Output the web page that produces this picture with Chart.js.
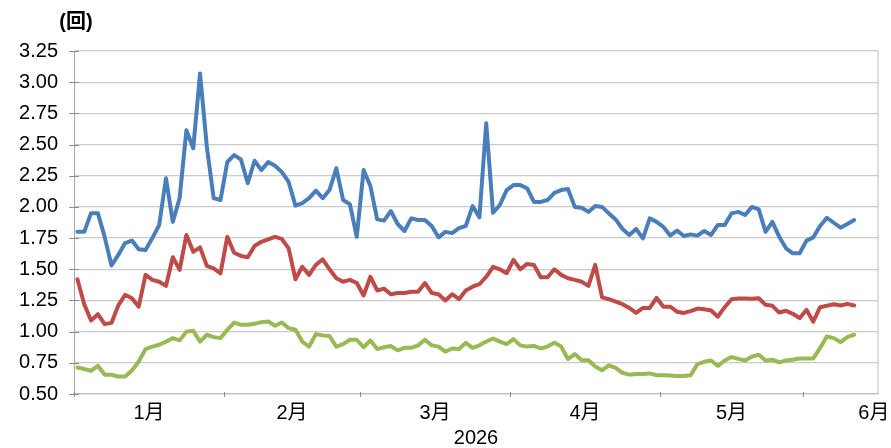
<!DOCTYPE html>
<html><head><meta charset="utf-8">
<script src="https://cdn.jsdelivr.net/npm/chart.js@4.4.1/dist/chart.umd.min.js"></script>
<style>html,body{margin:0;padding:0;background:#fff}</style>
</head><body>
<canvas id="c" width="891" height="448" style="display:block;width:891px;height:448px"></canvas>
<script>
// ---- data ----
const unitLabel = '(回)';
const yearLabel = '2026';
const monthLabels = ['1月','2月','3月','4月','5月','6月'];
const monthSizes = [22,20,22,22,21,11];   // trading days per month group on the axis
const yMin = 0.5, yMax = 3.25, yStep = 0.25;

const blueValues = [1.80,1.80,1.95,1.95,1.76,1.53,1.615,1.71,1.73,1.66,
 1.655,1.75,1.855,2.23,1.88,2.07,2.615,2.47,3.07,2.48,
 2.07,2.055,2.36,2.415,2.38,2.19,2.37,2.295,2.36,2.33,
 2.28,2.20,2.01,2.03,2.07,2.13,2.07,2.135,2.31,2.055,
 2.02,1.76,2.295,2.167,1.90,1.89,1.967,1.863,1.807,1.908,
 1.895,1.895,1.847,1.756,1.80,1.79,1.83,1.847,2.007,1.916,
 2.67,1.953,2.015,2.135,2.175,2.175,2.15,2.04,2.04,2.055,
 2.113,2.135,2.143,2.0,1.993,1.96,2.007,2.0,1.948,1.90,
 1.823,1.775,1.823,1.748,1.908,1.88,1.84,1.77,1.81,1.767,
 1.78,1.77,1.807,1.775,1.855,1.855,1.948,1.96,1.935,2.0,
 1.98,1.80,1.88,1.76,1.668,1.628,1.628,1.73,1.756,1.847,
 1.913,1.873,1.833,1.863,1.895];

const redValues = [1.42,1.22,1.09,1.14,1.06,1.07,1.21,1.295,1.268,1.20,
 1.455,1.415,1.40,1.367,1.596,1.495,1.775,1.64,1.676,1.527,
 1.508,1.468,1.76,1.633,1.607,1.596,1.687,1.72,1.74,1.76,
 1.743,1.668,1.42,1.52,1.455,1.535,1.58,1.50,1.428,1.40,
 1.415,1.39,1.29,1.44,1.33,1.345,1.30,1.31,1.31,1.32,
 1.32,1.39,1.31,1.30,1.25,1.30,1.26,1.33,1.36,1.38,
 1.44,1.52,1.50,1.468,1.575,1.50,1.543,1.535,1.436,1.436,
 1.50,1.455,1.428,1.415,1.40,1.367,1.535,1.275,1.26,1.24,
 1.22,1.19,1.15,1.19,1.19,1.27,1.20,1.20,1.16,1.15,
 1.165,1.185,1.18,1.17,1.12,1.196,1.26,1.265,1.265,1.263,
 1.268,1.215,1.207,1.153,1.167,1.143,1.108,1.175,1.08,1.196,
 1.207,1.22,1.21,1.223,1.21];

const greenValues = [0.713,0.70,0.686,0.726,0.654,0.654,0.64,0.64,0.689,0.76,
 0.86,0.88,0.895,0.92,0.948,0.93,1.0,1.007,0.92,0.975,
 0.956,0.948,1.015,1.073,1.055,1.055,1.063,1.076,1.081,1.047,
 1.073,1.028,1.015,0.92,0.88,0.98,0.97,0.965,0.88,0.90,
 0.935,0.935,0.875,0.93,0.86,0.875,0.885,0.85,0.87,0.87,
 0.89,0.935,0.89,0.88,0.84,0.865,0.86,0.91,0.87,0.89,
 0.92,0.945,0.92,0.90,0.94,0.89,0.88,0.885,0.865,0.88,
 0.91,0.88,0.78,0.82,0.77,0.77,0.72,0.69,0.73,0.71,
 0.67,0.655,0.66,0.66,0.665,0.65,0.65,0.648,0.645,0.645,
 0.65,0.74,0.758,0.769,0.726,0.769,0.796,0.782,0.769,0.80,
 0.815,0.769,0.775,0.753,0.769,0.775,0.785,0.785,0.785,0.868,
 0.961,0.948,0.916,0.956,0.975];

// ---- derived axis structure ----
const groupStarts = [];
{ let s = 0; for (const n of monthSizes) { groupStarts.push(s); s += n; } }
const xMax = monthSizes.reduce((a, b) => a + b, 0);
const boundaries = groupStarts.slice(1);
const labelCenters = monthSizes.map((n, i) => {
  const full = i === monthSizes.length - 1 ? 22 : n;   // last month only partly visible
  return Math.min(groupStarts[i] + full / 2, xMax - 0.6);
});
const toPoints = arr => arr.map((v, i) => ({ x: i + 0.5, y: v }));

const FONT = '"Liberation Sans", Arial, "Noto Sans CJK JP", sans-serif';

const deco = {
  id: 'deco',
  beforeDatasetsDraw(chart) {
    const { ctx, chartArea: a, scales: { x, y } } = chart;
    ctx.save();
    // right border of plot area
    ctx.strokeStyle = '#c8c8c8';
    ctx.lineWidth = 1.2;
    ctx.beginPath();
    ctx.moveTo(a.right, a.top); ctx.lineTo(a.right, a.bottom);
    ctx.stroke();
    // y tick marks (crossing axis)
    ctx.strokeStyle = '#8c8c8c';
    ctx.lineWidth = 1;
    for (let v = yMin; v <= yMax + 1e-9; v += yStep) {
      const py = Math.round(y.getPixelForValue(v)) + 0.5;
      ctx.beginPath(); ctx.moveTo(a.left - 5, py); ctx.lineTo(a.left + 5, py); ctx.stroke();
    }
    // x tick marks at month boundaries
    for (const b of [0, ...boundaries]) {
      const px = Math.round(x.getPixelForValue(b)) + 0.5;
      ctx.beginPath(); ctx.moveTo(px, a.bottom - 2); ctx.lineTo(px, a.bottom + 3); ctx.stroke();
    }
    ctx.restore();
  },
  afterDraw(chart) {
    const { ctx } = chart;
    ctx.save();
    ctx.fillStyle = '#000';
    ctx.font = 'bold 20px ' + FONT;
    ctx.textAlign = 'center';
    ctx.textBaseline = 'middle';
    ctx.fillText(unitLabel, 76, 22);
    ctx.restore();
  }
};

new Chart(document.getElementById('c'), {
  type: 'line',
  data: {
    datasets: [
      { data: toPoints(blueValues), borderColor: '#4A7EBB' },
      { data: toPoints(redValues), borderColor: '#BE4B48' },
      { data: toPoints(greenValues), borderColor: '#98B954' }
    ]
  },
  options: {
    responsive: false,
    animation: false,
    devicePixelRatio: 1,
    layout: { padding: { top: 51, left: 0, right: 13, bottom: 0 } },
    elements: {
      line: { borderWidth: 4, tension: 0, borderCapStyle: 'round', borderJoinStyle: 'round', fill: false },
      point: { radius: 0, hoverRadius: 0 }
    },
    plugins: { legend: { display: false }, tooltip: { enabled: false }, title: { display: false } },
    scales: {
      x: {
        type: 'linear',
        min: 0, max: xMax,
        grid: { display: false, drawTicks: false },
        border: { display: true, color: '#bdbdbd', width: 1.2 },
        afterBuildTicks: s => { s.ticks = labelCenters.map(v => ({ value: v })); },
        afterFit: s => { s.height = 54; s.paddingLeft = 0; s.paddingRight = 0; },
        ticks: {
          autoSkip: false, maxRotation: 0, padding: 7,
          color: '#000', font: { family: FONT, size: 20 },
          callback: (v, i) => monthLabels[i]
        },
        title: {
          display: true, text: yearLabel, color: '#000',
          font: { family: FONT, size: 20, lineHeight: 1 },
          padding: { top: 0, bottom: 0 }
        }
      },
      y: {
        min: yMin, max: yMax,
        afterFit: s => { s.width = 74; s.paddingTop = 0; s.paddingBottom = 0; },
        grid: { color: '#cbcbcb', lineWidth: 1.2, drawTicks: false },
        border: { display: true, color: '#a8a8a8', width: 1 },
        ticks: {
          stepSize: yStep, padding: 16, color: '#000',
          font: { family: FONT, size: 20 },
          callback: v => v.toFixed(2)
        }
      }
    }
  },
  plugins: [deco]
});
</script>
</body></html>
